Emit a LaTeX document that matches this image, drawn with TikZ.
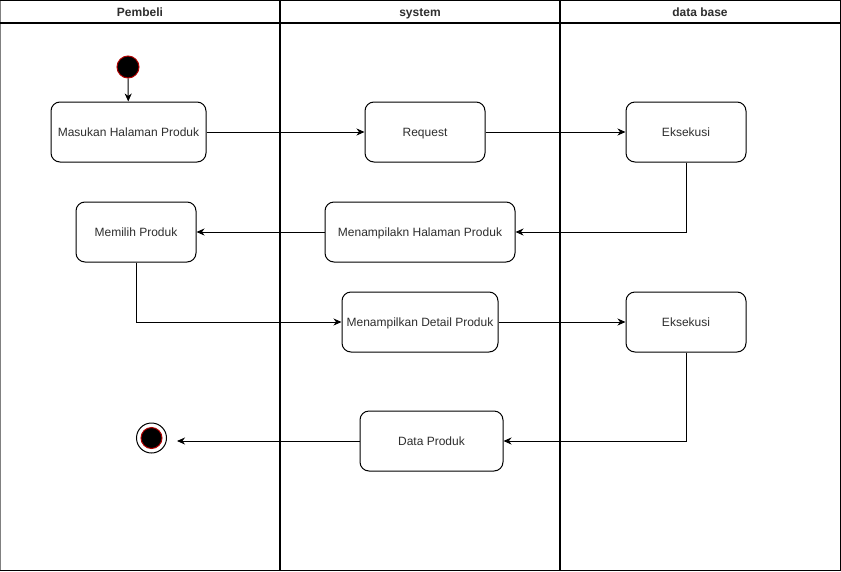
\documentclass[tikz,border=0pt]{standalone}
\usepackage{fontspec}
\setmainfont{Liberation Sans}
\usetikzlibrary{arrows.meta}
\begin{document}
\begin{tikzpicture}[x=1pt,y=-1pt,
  every node/.style={font=\fontsize{12}{14}\selectfont,text=black!82},
  act/.style={draw=black,line width=1pt,rounded corners=9pt,fill=white,
    minimum height=60pt,inner sep=0pt,anchor=center,text height=9pt,text depth=0pt},
  lane/.style={draw=black,line width=1.4pt},
  head/.style={font=\bfseries\fontsize{12}{14}\selectfont,text height=9pt,text depth=0pt},
  flow/.style={draw=black,line width=1pt,-{Stealth[length=8pt,width=7pt,inset=2.5pt]}},
  startdot/.style={circle,fill=black,draw=red!70!black,line width=1pt,
    minimum size=22pt,inner sep=0pt},
]
\useasboundingbox (0,0) rectangle (841,571);
\fill[white] (0,0) rectangle (841,571);

% swimlanes
\draw[lane] (280,0.7) -- (280,570.3) (560,0.7) -- (560,570.3);
\draw[lane] (0,0.7) -- (840.3,0.7) -- (840.3,570.3) -- (0,570.3);
\draw[draw=gray,line width=1.4pt] (0.7,0.7) -- (0.7,570.3);
\draw[draw=black,line width=1.2pt] (0,23) -- (840.3,23);
\node[head] (h1) at (140,12) {Pembeli};
\node[head] (h2) at (420,12) {system};
\node[head] (h3) at (700,12) {data base};

% initial and final states
\node[startdot] (start) at (128,67) {};
\node[circle,draw=black,line width=1pt,minimum size=30pt,inner sep=0pt] (end) at (151.5,438) {};
\node[startdot,minimum size=21pt] (endin) at (151.5,438) {};

% activities
\node[act,minimum width=155pt] (masuk) at (128.5,132) {Masukan Halaman Produk};
\node[act,minimum width=120pt] (req) at (425,132) {Request};
\node[act,minimum width=120pt] (eks1) at (686,132) {Eksekusi};
\node[act,minimum width=120pt] (pilih) at (136,232) {Memilih Produk};
\node[act,minimum width=190pt] (tampil) at (420,232) {Menampilakn Halaman Produk};
\node[act,minimum width=156pt] (detail) at (420,322) {Menampilkan Detail Produk};
\node[act,minimum width=120pt] (eks2) at (686,322) {Eksekusi};
\node[act,minimum width=143pt] (data) at (431.5,441) {Data Produk};

\coordinate (endtip) at (177,441);

% control flow
\draw[flow] (start) -- (masuk);
\draw[flow] (masuk) -- (req);
\draw[flow] (req) -- (eks1);
\draw[flow] (eks1.south) |- (tampil.east);
\draw[flow] (tampil) -- (pilih);
\draw[flow] (pilih.south) |- (detail.west);
\draw[flow] (detail) -- (eks2);
\draw[flow] (eks2.south) |- (data.east);
\draw[flow] (data.west) -- (endtip);
\end{tikzpicture}
\end{document}
